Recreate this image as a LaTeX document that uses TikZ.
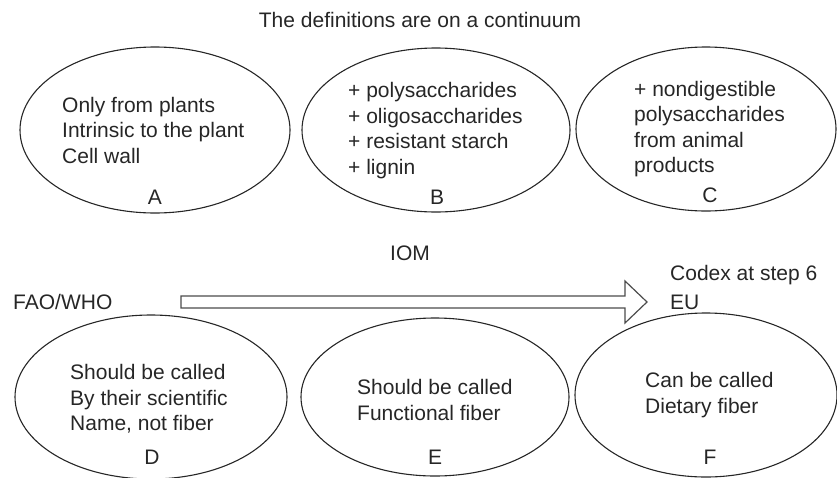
\documentclass[tikz,border=0pt]{standalone}
\usepackage{fontspec}
\setmainfont{Liberation Sans}
\usetikzlibrary{shapes.geometric}
\begin{document}
\begin{tikzpicture}[x=1pt,y=-1pt,
  oval/.style={ellipse, draw=black!85, line width=1.1pt, inner sep=0pt},
  txt/.style={font=\fontsize{21}{25.5}\selectfont, text=black!85, inner sep=0pt, align=left, anchor=west},
  lab/.style={font=\fontsize{21}{25}\selectfont, text=black!85, inner sep=0pt},
  bigarrow/.style={draw=black!70, line width=1.2pt, line join=miter}]
\useasboundingbox (0,0) rectangle (837,477);
\node[lab] (title) at (420,20) {The definitions are on a continuum};
% top row
\node[oval, minimum width=270pt, minimum height=166pt] (A) at (155,130) {};
\node[oval, minimum width=268pt, minimum height=164pt] (B) at (436,130) {};
\node[oval, minimum width=260pt, minimum height=164pt] (C) at (706,129) {};
\node[txt] (Atext) at (62,130) {Only from plants\\Intrinsic to the plant\\Cell wall};
\node[txt] (Btext) at (348,130.5) {+ polysaccharides\\+ oligosaccharides\\+ resistant starch\\+ lignin};
\node[txt] (Ctext) at (634,129) {+ nondigestible\\polysaccharides\\from animal\\products};
\node[lab] (Alab) at (155,197) {A};
\node[lab] (Blab) at (437,197) {B};
\node[lab] (Clab) at (710,195) {C};
% middle
\node[lab] (iom) at (410,253) {IOM};
\node[lab, anchor=west] (codex) at (670,275) {Codex at step 6};
\node[lab, anchor=west] (fao) at (13,302) {FAO/WHO};
\node[lab, anchor=west] (eu) at (670,302) {EU};
\coordinate (s1) at (181,296);
\coordinate (s2) at (625,296);
\coordinate (h1) at (625,281);
\coordinate (tip) at (647,302);
\coordinate (h2) at (625,323);
\coordinate (s3) at (625,308);
\coordinate (s4) at (181,308);
\draw[bigarrow] (s1) -- (s2) -- (h1) -- (tip) -- (h2) -- (s3) -- (s4) -- cycle;
% bottom row
\node[oval, minimum width=272pt, minimum height=164pt] (D) at (151,397) {};
\node[oval, minimum width=268pt, minimum height=158pt] (E) at (435,397) {};
\node[oval, minimum width=262pt, minimum height=164pt] (F) at (706,395) {};
\node[txt] (Dtext) at (70,399) {Should be called\\By their scientific\\Name, not fiber};
\node[txt] (Etext) at (357,400) {Should be called\\Functional fiber};
\node[txt] (Ftext) at (645,395) {Can be called\\Dietary fiber};
\node[lab] (Dlab) at (152,457) {D};
\node[lab] (Elab) at (435,457) {E};
\node[lab] (Flab) at (710,457) {F};
\end{tikzpicture}
\end{document}
